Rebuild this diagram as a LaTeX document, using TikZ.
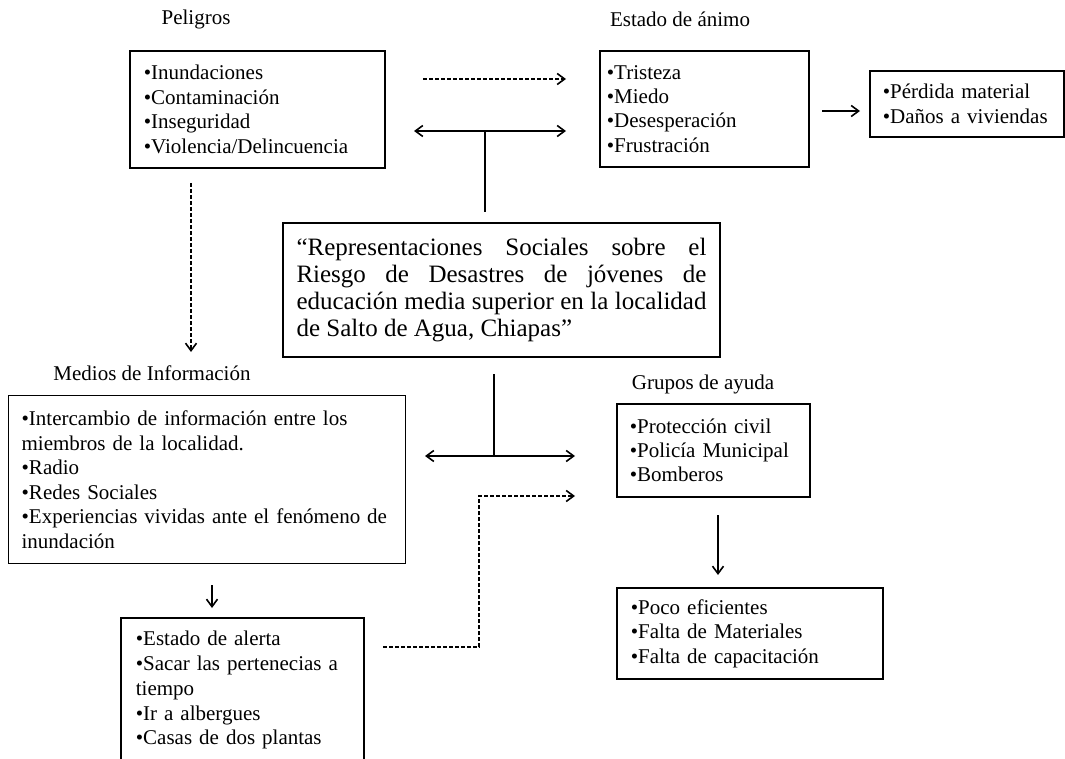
\documentclass[tikz,border=0pt]{standalone}
\usepackage{fontspec}
\setmainfont{Liberation Serif}
\usetikzlibrary{arrows.meta}
\newcommand{\itm}{\textbullet}

\begin{document}
\begin{tikzpicture}[x=1pt,y=-1pt,>={Straight Barb[length=7.5pt,width=11pt]},line width=1.6pt,
    box/.style={draw,line width=1.7pt,anchor=north west,align=left,inner ysep=0pt},
    txt/.style={font=\fontsize{21}{25}\selectfont},
    dasharrow/.style={->,dash pattern=on 4pt off 2pt}]
      \useasboundingbox (0,0) rectangle (1065,759);
      % headings
      \node[txt] (hpel) at (196,19) {Peligros};
      \node[txt] (hest) at (680,19) {Estado de ánimo};
      \node[txt] (hmed) at (152,373) {Medios de Información};
      \node[txt] (hgru) at (703,384) {Grupos de ayuda};
      % boxes
      \node[box,font=\fontsize{21}{24.7}\selectfont,inner xsep=14pt,text width=227pt,minimum height=117pt] (peligros) at (129,50)
        {\itm Inundaciones\\ \itm Contaminación\\ \itm Inseguridad\\ \itm Violencia/Delincuencia};
      \node[box,font=\fontsize{21}{24.3}\selectfont,inner xsep=7pt,text width=195pt,minimum height=116pt] (animo) at (599,50)
        {\itm Tristeza\\ \itm Miedo\\ \itm Desesperación\\ \itm Frustración};
      \node[box,font=\fontsize{21}{25}\selectfont,inner xsep=13pt,text width=168pt,minimum height=66pt] (perdida) at (869,70)
        {\itm Pérdida material\\ \itm Daños a viviendas};
      \node[box,line width=2pt,font=\fontsize{25}{27}\selectfont,align=justify,inner xsep=13.5pt,text width=410pt,minimum height=134pt] (tema) at (282,222)
        {“Representaciones Sociales sobre el\linebreak Riesgo de Desastres de jóvenes de\linebreak educación media superior en la localidad\linebreak de Salto de Agua, Chiapas”};
      \node[box,line width=1.3pt,font=\fontsize{21}{24.6}\selectfont,inner xsep=13pt,text width=371pt,minimum height=168pt] (medios) at (8,395)
        {\itm Intercambio de información entre los\\ miembros de la localidad.\\ \itm Radio\\ \itm Redes Sociales\\ \itm Experiencias vividas ante el fenómeno de\\ inundación};
      \node[box,font=\fontsize{21}{24}\selectfont,inner xsep=13pt,text width=167pt,minimum height=93pt] (grupos) at (616,403)
        {\itm Protección civil\\ \itm Policía Municipal\\ \itm Bomberos};
      \node[box,font=\fontsize{21}{24.5}\selectfont,inner xsep=14pt,text width=238pt,minimum height=91pt] (fallas) at (616,587)
        {\itm Poco eficientes\\ \itm Falta de Materiales\\ \itm Falta de capacitación};
      \node[box,font=\fontsize{21}{24.75}\selectfont,inner xsep=15pt,text width=213pt,minimum height=145pt] (acciones) at (120,617)
        {\itm Estado de alerta\\ \itm Sacar las pertenecias a\\ tiempo\\ \itm Ir a albergues\\ \itm Casas de dos plantas};
      % connector ends
      \coordinate (pa) at (423,79);  \coordinate (pb) at (566,79);
      \coordinate (ql) at (414,131); \coordinate (qr) at (566,131);
      \coordinate (qm) at (485,131); \coordinate (qt) at (485,212);
      \coordinate (ra) at (822,111); \coordinate (rb) at (860,111);
      \coordinate (sa) at (191,183); \coordinate (sb) at (191,352);
      \coordinate (tt) at (494,374); \coordinate (tm) at (494,456);
      \coordinate (tl) at (425,456); \coordinate (tr) at (575,456);
      \coordinate (ua) at (383,647); \coordinate (uc) at (479,647);
      \coordinate (ud) at (479,496); \coordinate (ub) at (575,496);
      \coordinate (va) at (212,585); \coordinate (vb) at (212,608);
      \coordinate (wa) at (718,515); \coordinate (wb) at (718,575);
      % connectors
      \draw[dasharrow] (pa) -- (pb);
      \draw[<->] (ql) -- (qr);
      \draw (qm) -- (qt);
      \draw[->] (ra) -- (rb);
      \draw[dasharrow] (sa) -- (sb);
      \draw (tt) -- (tm);
      \draw[<->] (tl) -- (tr);
      \draw[dasharrow] (ua) -- (uc) -- (ud) -- (ub);
      \draw[->] (va) -- (vb);
      \draw[->] (wa) -- (wb);
\end{tikzpicture}
\end{document}
